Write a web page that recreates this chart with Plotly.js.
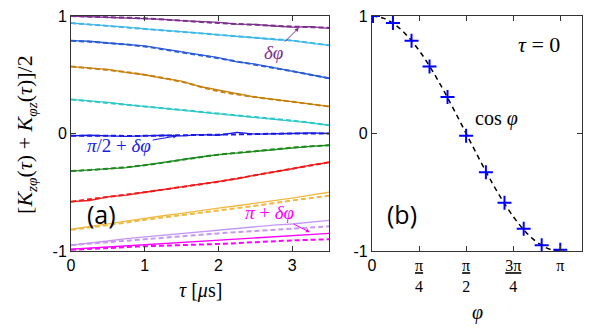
<!DOCTYPE html>
<html>
<head>
<meta charset="utf-8">
<script src="https://cdn.plot.ly/plotly-3.0.1.min.js"></script>
<style>html,body{margin:0;padding:0;background:#fff;}</style>
</head>
<body>
<div id="chart" style="width:598px;height:328px;"></div>
<script>
// left panel: measured (solid) and model (dashed) correlators vs tau
var tauFine = [0, 0.25, 0.5, 0.75, 1, 1.25, 1.5, 1.75, 2, 2.25, 2.5, 2.75, 3, 3.25, 3.5];
var tauCoarse = [0, 0.5, 1, 1.5, 2, 2.5, 3, 3.5];

var colors = ['#7e2f8e', '#3fb8e8', '#2a5bd7', '#c8800f', '#2ec9c9', '#1a1ae6',
              '#1f8a1f', '#f01a1a', '#f0b840', '#c597f5', '#ff00ff'];

var measured = [
  [1.0, 0.995, 0.99, 0.985, 0.975, 0.972, 0.96, 0.955, 0.945, 0.93, 0.928, 0.915, 0.905, 0.91, 0.895],
  [0.94, 0.93, 0.915, 0.905, 0.89, 0.88, 0.865, 0.855, 0.84, 0.83, 0.815, 0.80, 0.79, 0.77, 0.75],
  [0.79, 0.785, 0.77, 0.76, 0.745, 0.72, 0.695, 0.665, 0.645, 0.61, 0.59, 0.56, 0.53, 0.50, 0.47],
  [0.57, 0.56, 0.545, 0.52, 0.50, 0.47, 0.445, 0.40, 0.37, 0.345, 0.31, 0.29, 0.27, 0.25, 0.23],
  [0.29, 0.28, 0.265, 0.245, 0.23, 0.215, 0.20, 0.185, 0.17, 0.155, 0.14, 0.125, 0.11, 0.09, 0.07],
  [-0.02, -0.015, -0.02, -0.025, -0.02, -0.015, -0.02, -0.01, -0.015, 0.01, -0.005, -0.005, 0.0, 0.005, 0.0],
  [-0.32, -0.31, -0.30, -0.29, -0.27, -0.245, -0.225, -0.20, -0.18, -0.165, -0.15, -0.135, -0.12, -0.11, -0.10],
  [-0.58, -0.57, -0.54, -0.525, -0.50, -0.48, -0.455, -0.43, -0.41, -0.385, -0.355, -0.33, -0.30, -0.27, -0.245],
  [-0.815, -0.795, -0.77, -0.745, -0.72, -0.70, -0.68, -0.655, -0.635, -0.615, -0.595, -0.57, -0.55, -0.525, -0.50],
  [-0.95, -0.935, -0.915, -0.895, -0.88, -0.865, -0.85, -0.835, -0.82, -0.81, -0.795, -0.78, -0.77, -0.755, -0.74],
  [-0.985, -0.975, -0.965, -0.955, -0.95, -0.94, -0.93, -0.92, -0.91, -0.90, -0.89, -0.88, -0.87, -0.86, -0.85]
];

var model = [
  [1.0, 0.99, 0.98, 0.96, 0.94, 0.925, 0.91, 0.90],
  [0.94, 0.915, 0.89, 0.865, 0.84, 0.815, 0.79, 0.75],
  [0.79, 0.77, 0.74, 0.69, 0.64, 0.585, 0.53, 0.47],
  [0.57, 0.54, 0.50, 0.44, 0.36, 0.31, 0.27, 0.23],
  [0.29, 0.26, 0.23, 0.20, 0.17, 0.14, 0.11, 0.07],
  [-0.02, -0.02, -0.02, -0.015, -0.01, -0.005, 0.0, 0.0],
  [-0.32, -0.30, -0.27, -0.225, -0.18, -0.15, -0.12, -0.10],
  [-0.58, -0.54, -0.50, -0.455, -0.41, -0.355, -0.30, -0.245],
  [-0.82, -0.78, -0.735, -0.695, -0.655, -0.615, -0.57, -0.53],
  [-0.95, -0.925, -0.90, -0.875, -0.85, -0.83, -0.81, -0.79],
  [-0.99, -0.975, -0.96, -0.95, -0.94, -0.925, -0.91, -0.90]
];

// right panel: tau = 0 values vs phi
var phiPts = [0.017, 0.35, 0.66, 0.96, 1.26, 1.57, 1.90, 2.21, 2.53, 2.83, 3.14];
var kAtZero = [1.0, 0.94, 0.79, 0.57, 0.31, -0.02, -0.33, -0.59, -0.81, -0.95, -0.99];

var phiCurve = [0, 0.2, 0.4, 0.6, 0.8, 1.0, 1.2, 1.4, 1.6, 1.8, 2.0, 2.2, 2.4, 2.6, 2.8, 3.0, 3.2];
var cosCurve = [1, 0.980, 0.921, 0.825, 0.697, 0.540, 0.362, 0.170, -0.029, -0.227, -0.416,
                -0.589, -0.737, -0.857, -0.942, -0.990, -0.998];

var phiTicks = [0, 0.7854, 1.5708, 2.3562, 3.1416];
var phiTickText = [
  "<span style='font-family:Liberation Sans'>0</span>",
  "<span style='text-decoration:underline'>π</span><br>4",
  "<span style='text-decoration:underline'>π</span><br>2",
  "<span style='text-decoration:underline'>3π</span><br>4",
  "π"
];

var data = [];
for (var i = 0; i < model.length; i++) {
  data.push({
    x: tauCoarse, y: model[i], xaxis: 'x', yaxis: 'y', mode: 'lines',
    line: {color: colors[i], width: 2, dash: '5px,3px', shape: 'spline'},
    hoverinfo: 'skip'
  });
}
for (var i = 0; i < measured.length; i++) {
  data.push({
    x: tauFine, y: measured[i], xaxis: 'x', yaxis: 'y', mode: 'lines',
    line: {color: colors[i], width: 1.3},
    hoverinfo: 'skip'
  });
}
data.push({
  x: phiCurve, y: cosCurve, xaxis: 'x2', yaxis: 'y2', mode: 'lines',
  line: {color: '#000', width: 1.5, dash: '5px,4px', shape: 'spline'}
});
data.push({
  x: phiPts, y: kAtZero, xaxis: 'x2', yaxis: 'y2', mode: 'markers',
  marker: {symbol: 'cross-thin', size: 10, line: {width: 2, color: '#0000ff'}}
});

var axisBase = {
  showline: true, mirror: 'ticks', linecolor: '#333', linewidth: 1,
  ticks: 'inside', ticklen: 5, tickcolor: '#333',
  showgrid: false, zeroline: false,
  tickfont: {family: 'Liberation Sans, Arial, sans-serif', size: 16, color: '#000'}
};

function ax(extra) {
  return Object.assign({}, axisBase, extra);
}

var serif = 'Liberation Serif, DejaVu Serif, serif';
var sans = 'Open Sans, Liberation Sans, sans-serif';

var layout = {
  width: 598, height: 328,
  margin: {l: 0, r: 0, t: 16, b: 77},
  showlegend: false,
  paper_bgcolor: '#fff', plot_bgcolor: '#fff',
  xaxis: ax({domain: [0.1187, 0.5502], range: [0, 3.5], tickvals: [0, 1, 2, 3], anchor: 'y'}),
  yaxis: ax({domain: [0, 1], range: [-1, 1], tickvals: [-1, 0, 1], ticktext: ['-1', '0', '1'], anchor: 'x'}),
  xaxis2: ax({domain: [0.622, 0.973], range: [0, 3.5], tickvals: phiTicks, ticktext: phiTickText,
              tickfont: {family: serif, size: 16, color: '#000'}, anchor: 'y2'}),
  yaxis2: ax({domain: [0, 1], range: [-1, 1], tickvals: [-1, 0, 1], ticktext: ['-1', '0', '1'], anchor: 'x2'}),
  annotations: [
    {xref: 'paper', yref: 'paper', x: 26 / 598, y: 0.494, xanchor: 'center', yanchor: 'middle',
     textangle: -90, showarrow: false,
     text: '[<i>K</i><sub><i>zφ</i></sub>(<i>τ</i>) + <i>K</i><sub><i>φz</i></sub>(<i>τ</i>)]/2',
     font: {family: serif, size: 22, color: '#000'}},
    {xref: 'paper', yref: 'paper', x: 200 / 598, y: -0.166, xanchor: 'center', yanchor: 'middle',
     showarrow: false, text: '<i>τ</i> [<i>μ</i>s]', font: {family: serif, size: 20, color: '#000'}},
    {xref: 'paper', yref: 'paper', x: 477 / 598, y: -0.26, xanchor: 'center', yanchor: 'middle',
     showarrow: false, text: '<i>φ</i>', font: {family: serif, size: 20, color: '#000'}},
    {xref: 'x', yref: 'y', x: 3.09, y: 0.90, ax: -25, ay: 25, text: '<i>δφ</i>',
     font: {family: serif, size: 19, color: '#7e2f8e'},
     arrowcolor: '#7e2f8e', arrowhead: 2, arrowsize: 0.8, arrowwidth: 1},
    {xref: 'x', yref: 'y', x: 1.44, y: -0.02, ax: -58, ay: 10, text: '<i>π</i>/2 + <i>δφ</i>',
     font: {family: serif, size: 19, color: '#1a1ae6'},
     arrowcolor: '#1a1ae6', arrowhead: 2, arrowsize: 0.8, arrowwidth: 1},
    {xref: 'x', yref: 'y', x: 3.24, y: -0.84, ax: -40, ay: -20, text: '<i>π</i> + <i>δφ</i>',
     font: {family: serif, size: 19, color: '#ff00ff'},
     arrowcolor: '#ff00ff', arrowhead: 2, arrowsize: 0.8, arrowwidth: 1},
    {xref: 'x', yref: 'y', x: 0.41, y: -0.685, showarrow: false, text: '(a)',
     font: {family: sans, size: 25, color: '#000'}},
    {xref: 'x2', yref: 'y2', x: 2.78, y: 0.76, showarrow: false, text: '<i>τ</i> = 0',
     font: {family: serif, size: 22, color: '#000'}},
    {xref: 'x2', yref: 'y2', x: 2.07, y: 0.13, showarrow: false, text: 'cos <i>φ</i>',
     font: {family: serif, size: 20, color: '#000'}},
    {xref: 'x2', yref: 'y2', x: 0.50, y: -0.685, showarrow: false, text: '(b)',
     font: {family: sans, size: 25, color: '#000'}}
  ]
};

Plotly.newPlot('chart', data, layout, {staticPlot: true});
</script>
</body>
</html>
